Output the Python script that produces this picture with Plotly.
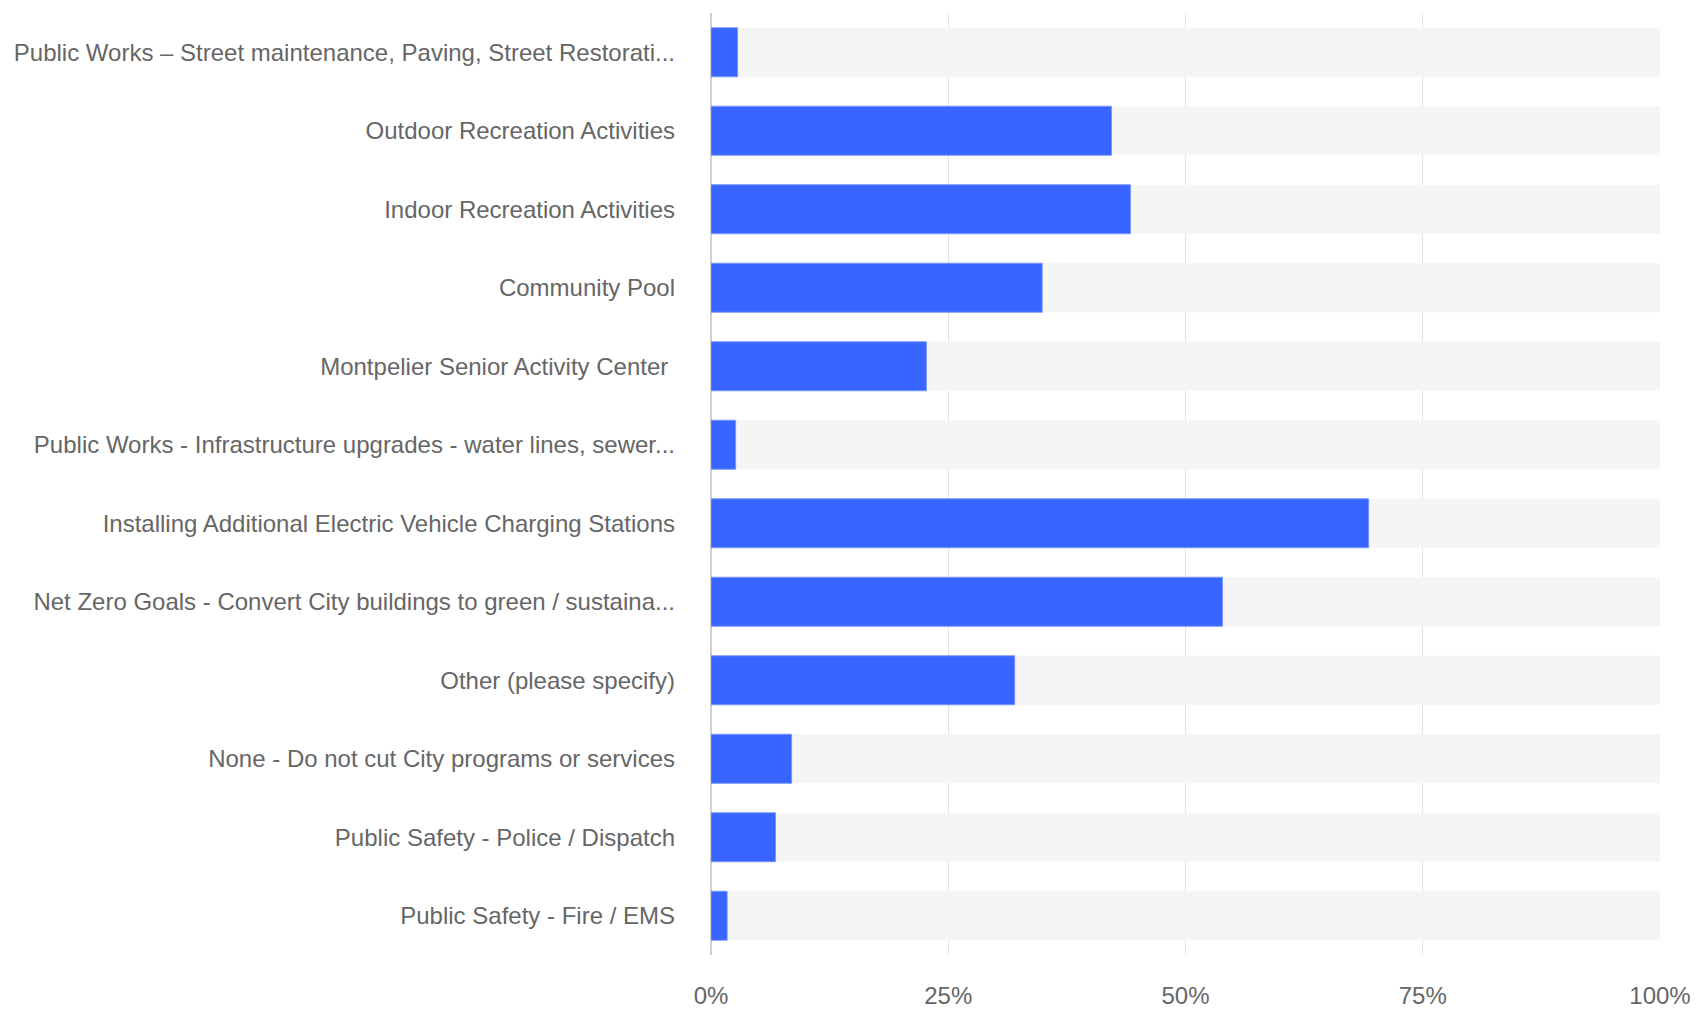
import plotly.graph_objects as go

categories = [
    "Public Works – Street maintenance, Paving, Street Restorati...",
    "Outdoor Recreation Activities",
    "Indoor Recreation Activities",
    "Community Pool",
    "Montpelier Senior Activity Center\u00a0",
    "Public Works - Infrastructure upgrades - water lines, sewer...",
    "Installing Additional Electric Vehicle Charging Stations",
    "Net Zero Goals - Convert City buildings to green / sustaina...",
    "Other (please specify)",
    "None - Do not cut City programs or services",
    "Public Safety - Police / Dispatch",
    "Public Safety - Fire / EMS",
]
values = [2.8, 42.2, 44.2, 34.9, 22.7, 2.6, 69.3, 53.9, 32.0, 8.5, 6.8, 1.7]
full = [100] * len(categories)
tick_vals = [0, 25, 50, 75, 100]
tick_text = ["0%", "25%", "50%", "75%", "100%"]

fig = go.Figure()
fig.add_trace(go.Bar(
    y=categories, x=full, orientation="h",
    marker=dict(color="#f5f5f5", line=dict(width=0)),
    hoverinfo="skip", showlegend=False,
))
fig.add_trace(go.Bar(
    y=categories, x=values, orientation="h",
    marker=dict(color="#3864ff", line=dict(color="rgba(120,150,255,0.9)", width=1)),
    showlegend=False,
))

fig.update_layout(
    width=1690, height=1002,
    barmode="overlay", bargap=0.375,
    plot_bgcolor="white", paper_bgcolor="white",
    margin=dict(l=703, r=38, t=5, b=55, autoexpand=False),
    font=dict(family="Liberation Sans, Arial, sans-serif", size=24, color="#666666"),
    xaxis=dict(
        range=[0, 100], tickvals=tick_vals, ticktext=tick_text,
        showgrid=True, gridcolor="#e2e2e2", gridwidth=1,
        zeroline=True, zerolinecolor="#cfcfcf", zerolinewidth=2,
        showline=False, ticks="", ticklabelstandoff=24,
        fixedrange=True,
    ),
    yaxis=dict(
        categoryorder="array", categoryarray=categories,
        autorange="reversed", showgrid=False, zeroline=False,
        ticks="", ticklabelstandoff=35, showline=False,
    ),
)

fig.write_html("out.html")
